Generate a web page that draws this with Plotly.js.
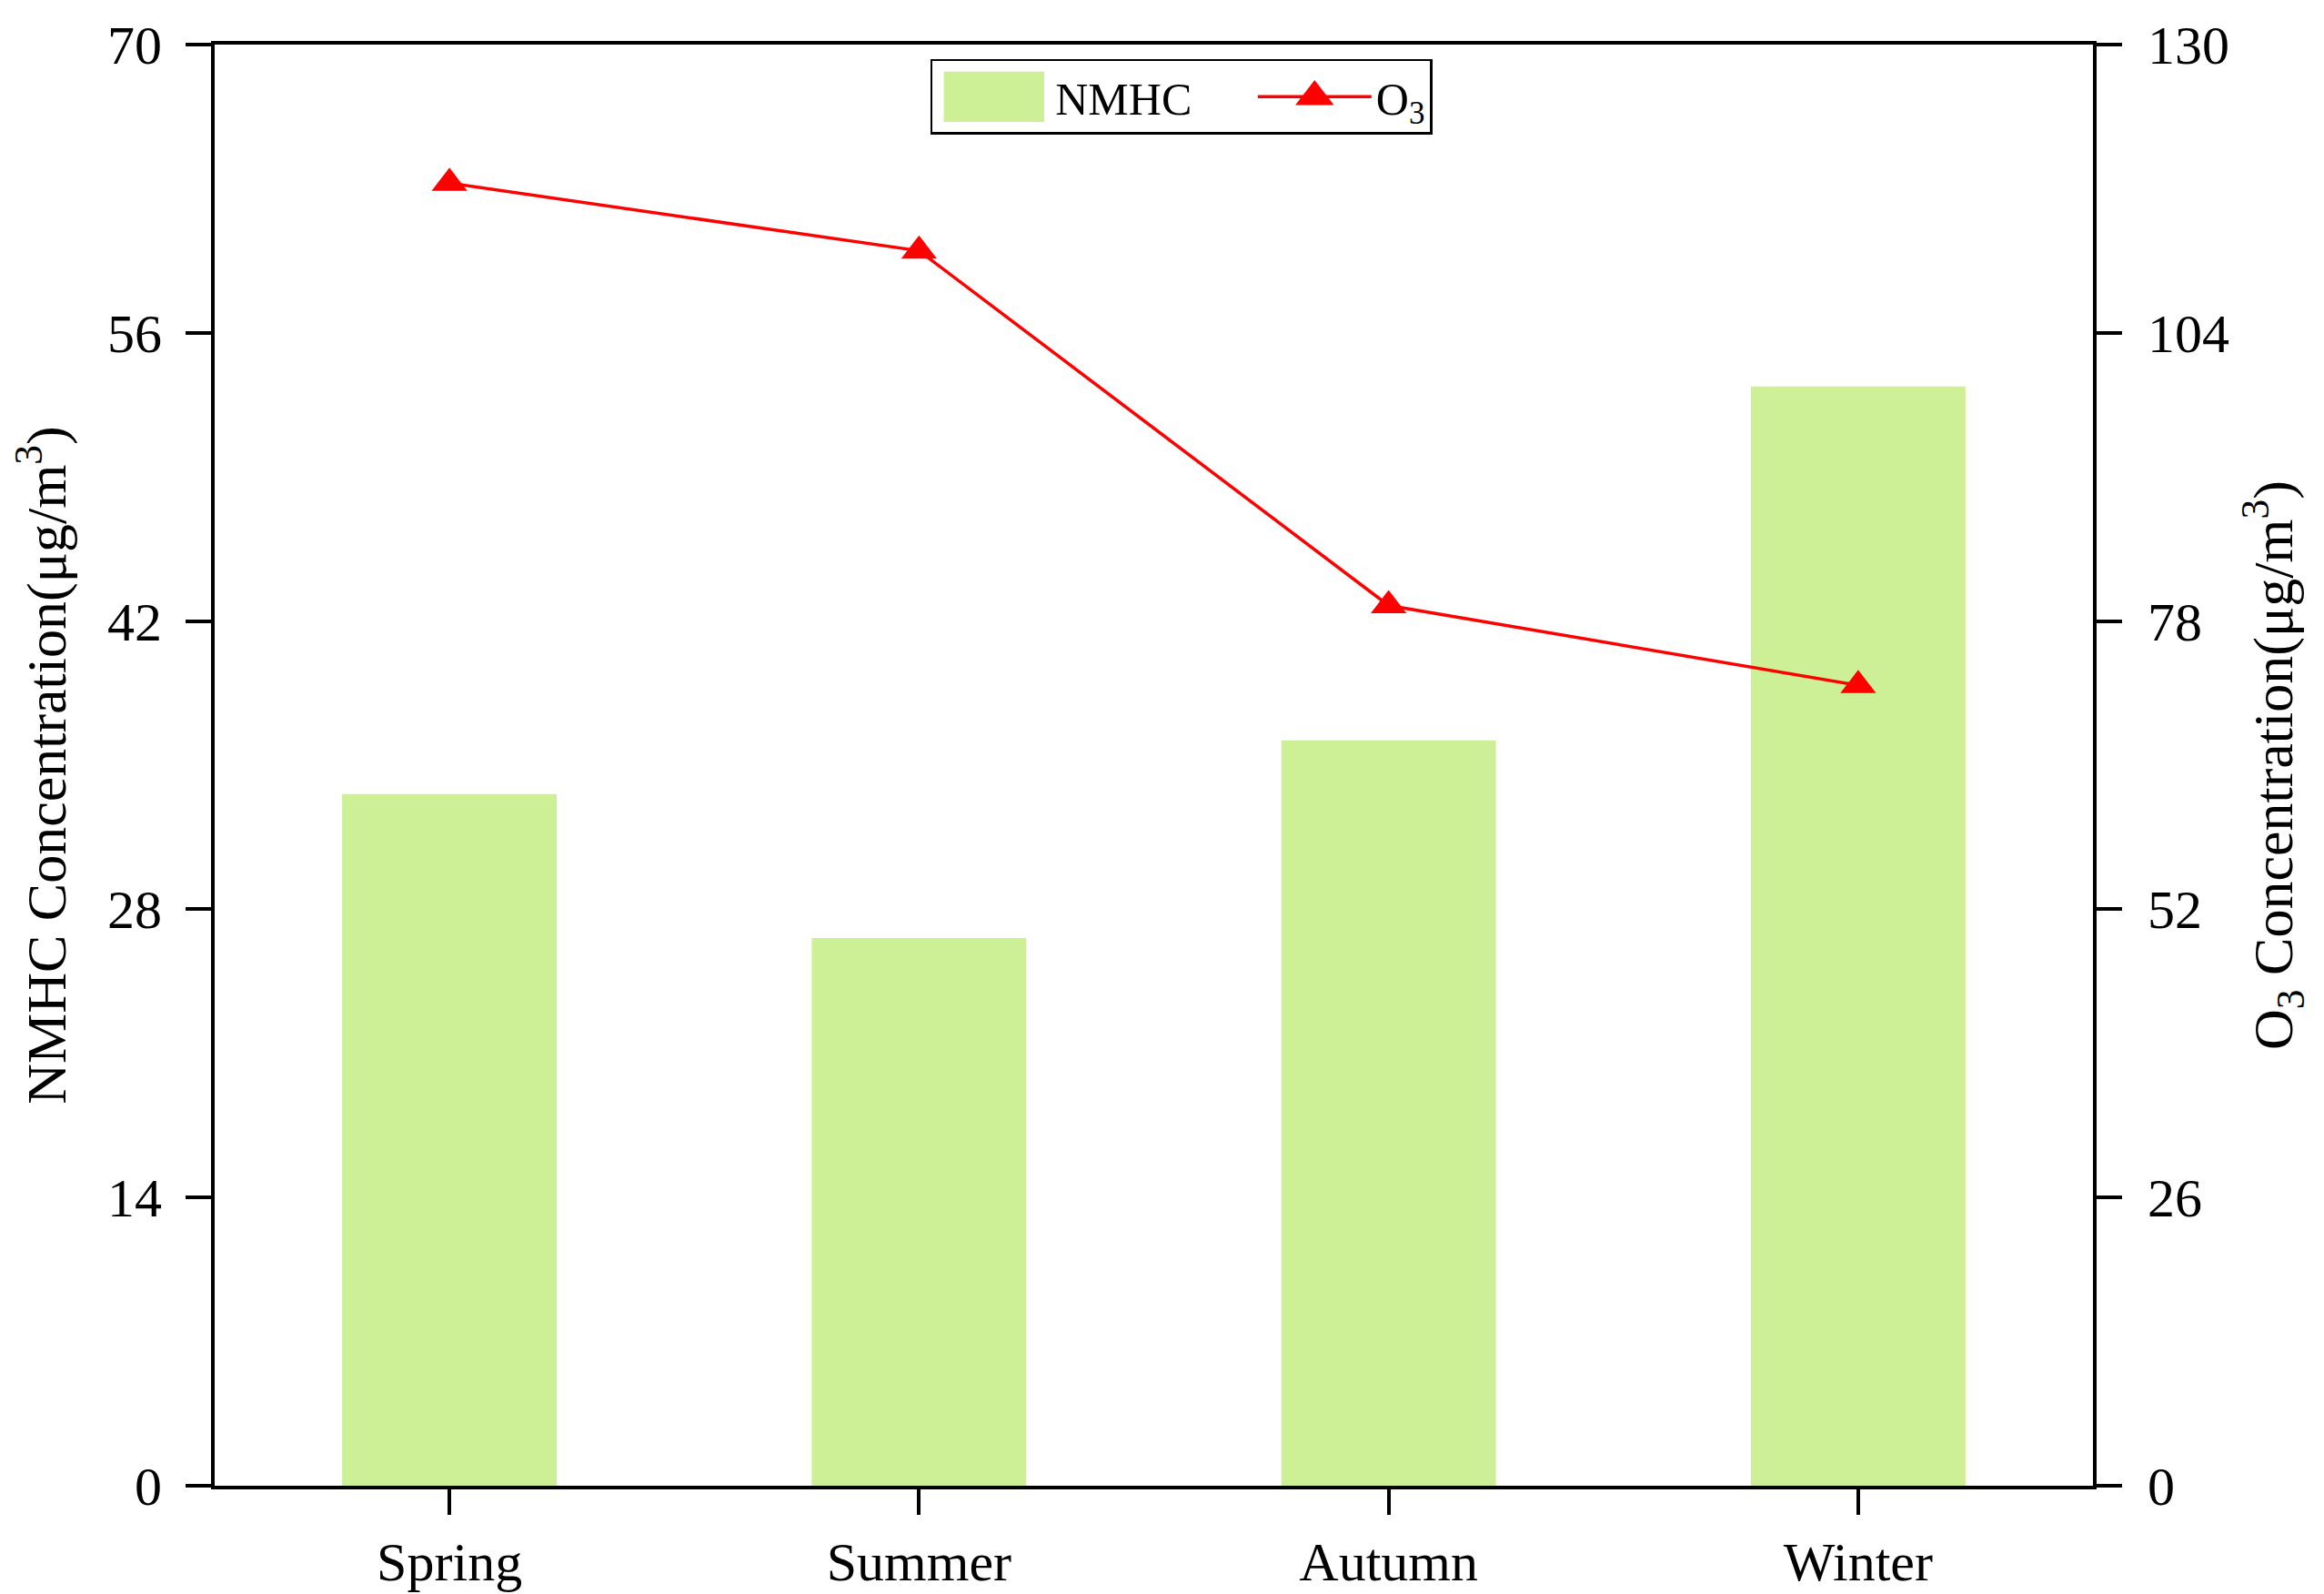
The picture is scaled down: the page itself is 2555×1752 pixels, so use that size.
<!DOCTYPE html>
<html>
<head>
<meta charset="utf-8">
<script src="https://cdn.plot.ly/plotly-3.0.1.min.js"></script>
<style>html,body{margin:0;padding:0;background:#fff;}#chart{width:2555px;height:1752px;}</style>
</head>
<body>
<div id="chart"></div>
<script>
const seasons = ["Spring", "Summer", "Autumn", "Winter"];
const nmhc = [33.6, 26.6, 36.2, 53.4];
const o3 = [117.5, 111.4, 79.4, 72.2];
const leftTicks = [0, 14, 28, 42, 56, 70];
const rightTicks = [0, 26, 52, 78, 104, 130];

const FONT = "Liberation Serif, Times New Roman, serif";
const PAD = "\u00A0\u00A0\u00A0\u00A0\u00A0";

const traces = [
  {
    type: "bar",
    x: seasons,
    y: nmhc,
    name: "NMHC" + PAD,
    marker: {color: "#cdf097", line: {width: 0}},
    yaxis: "y"
  },
  {
    type: "scatter",
    mode: "lines+markers",
    x: seasons,
    y: o3,
    name: "O<sub>3</sub>",
    yaxis: "y2",
    line: {color: "#ff0000", width: 3.5},
    marker: {symbol: "triangle-up", size: 34, color: "#ff0000"}
  }
];

const layout = {
  width: 2555,
  height: 1752,
  paper_bgcolor: "#ffffff",
  plot_bgcolor: "#ffffff",
  font: {family: FONT, color: "#000", size: 58},
  margin: {l: 236, r: 254, t: 49, b: 119, pad: 0},
  bargap: 0.543,
  showlegend: true,
  legend: {
    orientation: "h",
    x: 0.381, y: 0.99, xanchor: "left", yanchor: "top",
    bordercolor: "#000", borderwidth: 2.5,
    bgcolor: "#fff",
    font: {family: FONT, size: 50, color: "#000"},
    itemwidth: 125,
    traceorder: "normal"
  },
  xaxis: {
    type: "category",
    categoryorder: "array",
    categoryarray: seasons,
    range: [-0.5, 3.5],
    showline: true, linecolor: "#000", linewidth: 4, mirror: true,
    ticks: "outside", ticklen: 28, tickwidth: 4, tickcolor: "#000",
    showgrid: false, zeroline: false,
    tickfont: {family: FONT, size: 60, color: "#000"},
    ticklabelstandoff: 0
  },
  yaxis: {
    range: [0, 70],
    tickvals: leftTicks,
    ticktext: leftTicks.map(String),
    showline: true, linecolor: "#000", linewidth: 4,
    ticks: "outside", ticklen: 28, tickwidth: 4, tickcolor: "#000",
    showgrid: false, zeroline: false,
    tickfont: {family: FONT, size: 60, color: "#000"},
    ticklabelstandoff: 14,
    title: {text: "NMHC Concentration(μg/m<sup>3</sup>)", font: {family: FONT, size: 62, color: "#000"}, standoff: 26}
  },
  yaxis2: {
    overlaying: "y",
    side: "right",
    range: [0, 130],
    tickvals: rightTicks,
    ticktext: rightTicks.map(String),
    showline: true, linecolor: "#000", linewidth: 4,
    ticks: "outside", ticklen: 28, tickwidth: 4, tickcolor: "#000",
    showgrid: false, zeroline: false,
    tickfont: {family: FONT, size: 60, color: "#000"},
    ticklabelstandoff: 16,
    title: {text: "O<sub>3</sub> Concentration(μg/m<sup>3</sup>)", font: {family: FONT, size: 62, color: "#000"}, standoff: 28}
  }
};

Plotly.newPlot("chart", traces, layout, {displayModeBar: false, staticPlot: true}).then(function (gd) {
  // enlarge the legend symbols to look like the reference key
  const items = gd.querySelectorAll(".legend .traces");
  if (items.length >= 2) {
    items[0].querySelectorAll(".legendpoints path").forEach(function (p) {
      const t = p.getAttribute("transform") || "";
      p.setAttribute("transform", t + " scale(9.2,4.6)");
    });
    items[1].querySelectorAll(".legendpoints path.scatterpts, .legendpoints path.point").forEach(function (p) {
      const t = p.getAttribute("transform") || "";
      p.setAttribute("transform", t + " scale(2.3)");
    });
  }
});
</script>
</body>
</html>
